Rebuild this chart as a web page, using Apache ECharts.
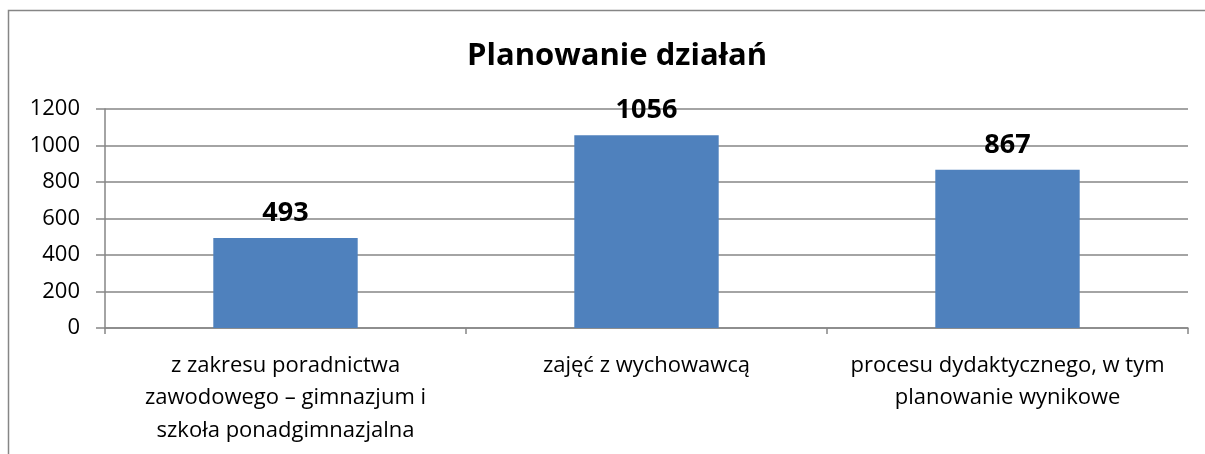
<!DOCTYPE html>
<html><head><meta charset="utf-8">
<script src="https://cdn.jsdelivr.net/npm/echarts@6/dist/echarts.min.js"></script>
<style>html,body{margin:0;padding:0;background:#fff}#c{width:1205px;height:454px}</style>
</head><body><div id="c"></div>
<script>
const title = "Planowanie działań";
const categories = [
  "z zakresu poradnictwa\nzawodowego – gimnazjum i\nszkoła ponadgimnazjalna",
  "zajęć z wychowawcą",
  "procesu dydaktycznego, w tym\nplanowanie wynikowe"
];
const values = [493, 1056, 867];
const yTicks = {min: 0, max: 1200, interval: 200};

const chart = echarts.init(document.getElementById('c'), null, {renderer: 'canvas'});
const font = "'Open Sans', 'DejaVu Sans', sans-serif";
chart.setOption({
  animation: false,
  backgroundColor: '#fff',
  graphic: [{
    type: 'polyline', silent: true,
    shape: {points: [[8.5, 460], [8.5, 10.5], [1215, 10.5]]},
    style: {fill: 'none', stroke: '#868686', lineWidth: 1.5}
  }],
  title: {
    text: title, left: 462, top: 36,
    textStyle: {fontFamily: font, fontWeight: 'bold', fontSize: 31, color: '#000'}
  },
  grid: {left: 105, right: 17, top: 109, bottom: 126, containLabel: false},
  xAxis: {
    type: 'category', data: categories,
    axisLine: {lineStyle: {color: '#868686', width: 1.5}},
    axisTick: {show: true, length: 6, alignWithLabel: false, lineStyle: {color: '#868686', width: 1.5}},
    axisLabel: {interval: 0, margin: 21, fontFamily: font, fontSize: 22, color: '#000', lineHeight: 32.5, align: 'center'},
    splitLine: {show: false}
  },
  yAxis: {
    type: 'value', min: yTicks.min, max: yTicks.max, interval: yTicks.interval,
    axisLine: {show: true, lineStyle: {color: '#868686', width: 1.5}},
    axisTick: {show: true, length: 9, lineStyle: {color: '#868686', width: 1.5}},
    axisLabel: {margin: 25, fontFamily: font, fontSize: 22, color: '#000', formatter: v => String(v)},
    splitLine: {lineStyle: {color: '#868686', width: 1.5}}
  },
  series: [{
    type: 'bar', data: values, barWidth: '40%',
    itemStyle: {color: '#4F81BD'},
    label: {show: true, position: 'top', distance: 11, fontFamily: font, fontWeight: 'bold', fontSize: 27, color: '#000'}
  }]
});
</script></body></html>
